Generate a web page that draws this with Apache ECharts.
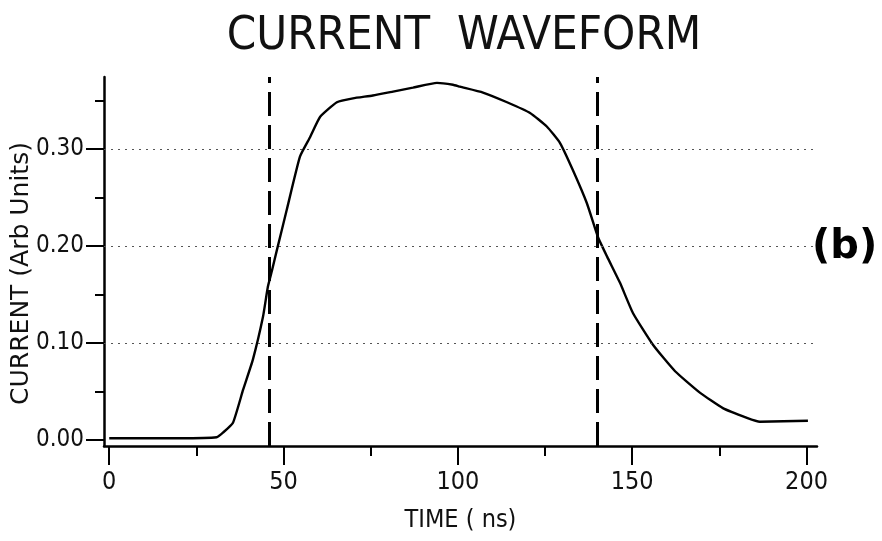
<!DOCTYPE html>
<html>
<head>
<meta charset="utf-8">
<script src="https://cdn.jsdelivr.net/npm/echarts@6/dist/echarts.min.js"></script>
<style>
  html, body { margin: 0; padding: 0; background: #fff; }
  #chart { width: 882px; height: 541px; }
</style>
</head>
<body>
<div id="chart"></div>
<script>
// waveform
const timeNs = [0, 10, 20, 30.8, 32.7, 35.5, 38.4, 41.2, 44.1, 45.5, 46.7, 48.1, 50.9, 54.7, 57.6, 60.5, 65.3, 69.9, 75.6, 81.4, 87.1, 94.0, 98.6, 100.6, 107.2, 114.1, 120.7, 125.5, 129.3, 133.0, 137.0, 140.2, 142.8, 146.5, 150.2, 156.0, 162.3, 169.4, 176.0, 182.9, 186.6, 200.4];
const current = [0.002, 0.002, 0.002, 0.003, 0.008, 0.018, 0.052, 0.083, 0.127, 0.158, 0.175, 0.196, 0.237, 0.292, 0.312, 0.333, 0.348, 0.352, 0.355, 0.359, 0.363, 0.368, 0.366, 0.364, 0.358, 0.348, 0.337, 0.323, 0.306, 0.278, 0.244, 0.209, 0.189, 0.162, 0.131, 0.098, 0.071, 0.049, 0.033, 0.023, 0.019, 0.020];

const xMajorTicks = [0, 50, 100, 150, 200];
const xMinorTicks = [25, 75, 125, 175];
const yMajorTicks = [0, 0.1, 0.2, 0.3];
const yMinorTicks = [0.05, 0.15, 0.25, 0.35];
const gridLevels = [0.1, 0.2, 0.3];
const markerTimes = [46, 140];

const NARROW = "'Liberation Sans Narrow', 'DejaVu Sans Condensed', 'Roboto Condensed', sans-serif";
const X_MIN = -1.5, X_MAX = 203;
const Y_MIN = -0.006, Y_MAX = 0.374;

const chart = echarts.init(document.getElementById("chart"), null, { renderer: "canvas" });

const baseX = { type: "value", min: X_MIN, max: X_MAX, gridIndex: 0, position: "bottom" };
const baseY = { type: "value", min: Y_MIN, max: Y_MAX, gridIndex: 0, position: "left" };

const option = {
  backgroundColor: "#fff",
  animation: false,
  title: {
    text: "CURRENT  WAVEFORM",
    left: 459,
    top: 8,
    textAlign: "center",
    textStyle: { fontFamily: NARROW, fontSize: 47, fontWeight: "normal", color: "#111" }
  },
  grid: { left: 104, right: 65, top: 77, bottom: 95, containLabel: false, outerBoundsMode: "none" },
  xAxis: [
    {
      ...baseX,
      name: "TIME ( ns)",
      nameLocation: "middle",
      nameGap: 62,
      nameMoveOverlap: false,
      nameTextStyle: { fontFamily: NARROW, fontSize: 25, color: "#111" },
      axisLine: { onZero: false, lineStyle: { color: "#000", width: 2.5 } },
      axisTick: { customValues: xMajorTicks, length: 19, lineStyle: { color: "#000", width: 2 } },
      axisLabel: { customValues: xMajorTicks, margin: 24, fontFamily: NARROW, fontSize: 25, color: "#111" },
      splitLine: { show: false }
    },
    {
      ...baseX,
      axisLine: { show: false, onZero: false },
      axisTick: { customValues: xMinorTicks, length: 10, lineStyle: { color: "#000", width: 2 } },
      axisLabel: { show: false },
      splitLine: { show: false }
    }
  ],
  yAxis: [
    {
      ...baseY,
      name: "CURRENT (Arb Units)",
      nameLocation: "middle",
      nameRotate: 90,
      nameGap: 70,
      nameMoveOverlap: false,
      nameTextStyle: { fontFamily: "'DejaVu Sans', sans-serif", fontSize: 25, color: "#111", padding: [0, 24, 0, 0] },
      axisLine: { onZero: false, lineStyle: { color: "#000", width: 2.5 } },
      axisTick: { customValues: yMajorTicks, length: 18, lineStyle: { color: "#000", width: 2 } },
      axisLabel: {
        customValues: yMajorTicks,
        margin: 20,
        fontFamily: NARROW,
        fontSize: 24,
        color: "#111",
        formatter: v => v.toFixed(2)
      },
      splitLine: { show: false }
    },
    {
      ...baseY,
      axisLine: { show: false, onZero: false },
      axisTick: { customValues: yMinorTicks, length: 9, lineStyle: { color: "#000", width: 2 } },
      axisLabel: { show: false },
      splitLine: { show: false }
    }
  ],
  series: [
    {
      type: "line",
      xAxisIndex: 0,
      yAxisIndex: 0,
      data: timeNs.map((t, i) => [t, current[i]]),
      showSymbol: false,
      smooth: 0.15,
      lineStyle: { color: "#000", width: 2.4 },
      markLine: {
        silent: true,
        symbol: "none",
        label: { show: false },
        data: [
          ...gridLevels.map(v => ({
            yAxis: v,
            lineStyle: { color: "#555", width: 1.2, type: [2, 5] }
          })),
          ...markerTimes.map(t => ({
            xAxis: t,
            lineStyle: { color: "#000", width: 3, type: [24, 9] }
          }))
        ]
      },
      z: 3
    }
  ],
  graphic: [
    {
      type: "text",
      left: 812,
      top: 228,
      style: { text: "(b)", fontFamily: "'DejaVu Sans', sans-serif", fontWeight: "bold", fontSize: 40, fill: "#000" }
    }
  ]
};

chart.setOption(option);
</script>
</body>
</html>
